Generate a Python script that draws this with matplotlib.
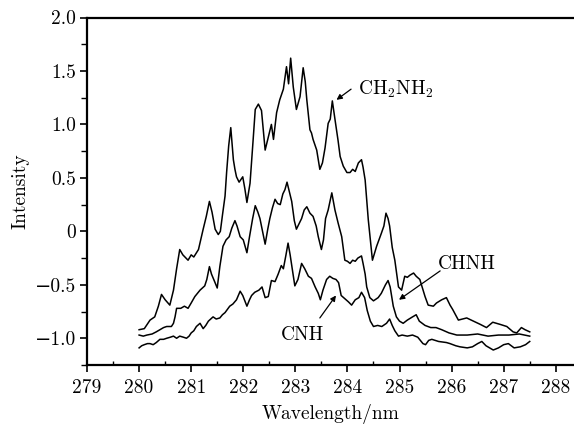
import matplotlib
matplotlib.use("Agg")
import matplotlib.pyplot as plt
from matplotlib.ticker import MultipleLocator

plt.rcParams['font.family'] = ['cmr10', 'DejaVu Serif']
plt.rcParams['mathtext.fontset'] = 'cm'
plt.rcParams['axes.formatter.use_mathtext'] = True

# CH2NH2 (upper trace)
x_top = [280.00, 280.10, 280.21, 280.30, 280.37, 280.43, 280.50, 280.59, 280.66, 280.72,
         280.78, 280.84, 280.94, 281.00, 281.05, 281.14, 281.23, 281.29, 281.35, 281.40,
         281.46, 281.52, 281.56, 281.60, 281.65, 281.68, 281.72, 281.76, 281.81, 281.84,
         281.87, 281.92, 281.99, 282.03, 282.07, 282.13, 282.19, 282.23, 282.29, 282.35,
         282.42, 282.47, 282.54, 282.58, 282.64, 282.70, 282.77, 282.83, 282.87, 282.91,
         282.96, 283.02, 283.09, 283.15, 283.19, 283.22, 283.28, 283.31, 283.34, 283.41,
         283.47, 283.52, 283.57, 283.63, 283.67, 283.71, 283.76, 283.82, 283.86, 283.92,
         283.99, 284.05, 284.10, 284.15, 284.21, 284.27, 284.30, 284.34, 284.40, 284.44,
         284.48, 284.56, 284.65, 284.70, 284.74, 284.78, 284.81, 284.86, 284.91, 284.98,
         285.04, 285.10, 285.15, 285.20, 285.27, 285.32, 285.39, 285.49, 285.55, 285.65,
         285.71, 285.81, 285.90, 285.97, 286.02, 286.13, 286.29, 286.42, 286.55, 286.67,
         286.79, 286.93, 287.06, 287.18, 287.25, 287.34, 287.41, 287.50]
y_top = [-0.92, -0.91, -0.83, -0.80, -0.70, -0.59, -0.64, -0.69, -0.55, -0.35,
         -0.17, -0.22, -0.27, -0.22, -0.24, -0.17, 0.02, 0.14, 0.28, 0.18,
         0.02, -0.03, 0.00, 0.15, 0.33, 0.55, 0.80, 0.97, 0.67, 0.58,
         0.51, 0.46, 0.51, 0.40, 0.27, 0.45, 0.86, 1.14, 1.19, 1.13,
         0.76, 0.86, 1.00, 0.86, 1.11, 1.23, 1.33, 1.54, 1.38, 1.62,
         1.35, 1.14, 1.26, 1.53, 1.40, 1.23, 0.95, 0.92, 0.86, 0.76,
         0.58, 0.64, 0.78, 1.01, 1.05, 1.22, 1.05, 0.85, 0.70, 0.61,
         0.55, 0.55, 0.58, 0.56, 0.64, 0.67, 0.60, 0.48, 0.11, -0.08,
         -0.27, -0.14, -0.02, 0.05, 0.17, 0.12, 0.05, -0.15, -0.27, -0.52,
         -0.55, -0.42, -0.43, -0.41, -0.39, -0.42, -0.45, -0.61, -0.69, -0.70,
         -0.67, -0.64, -0.62, -0.69, -0.73, -0.83, -0.81, -0.84, -0.87, -0.90,
         -0.85, -0.87, -0.89, -0.94, -0.95, -0.90, -0.92, -0.94]

# CHNH (middle trace)
x_mid = [280.00, 280.08, 280.15, 280.25, 280.33, 280.40, 280.47, 280.53, 280.62, 280.66,
         280.69, 280.72, 280.80, 280.87, 280.94, 281.00, 281.07, 281.12, 281.17, 281.26,
         281.30, 281.35, 281.39, 281.45, 281.50, 281.55, 281.61, 281.67, 281.73, 281.78,
         281.84, 281.88, 281.94, 282.00, 282.07, 282.12, 282.18, 282.23, 282.28, 282.32,
         282.37, 282.42, 282.47, 282.51, 282.56, 282.61, 282.66, 282.71, 282.76, 282.80,
         282.84, 282.88, 282.93, 282.98, 283.02, 283.06, 283.12, 283.17, 283.22, 283.28,
         283.34, 283.40, 283.44, 283.50, 283.54, 283.58, 283.63, 283.70, 283.73, 283.76,
         283.82, 283.89, 283.95, 284.00, 284.05, 284.10, 284.15, 284.20, 284.27, 284.30,
         284.34, 284.37, 284.43, 284.50, 284.59, 284.65, 284.69, 284.73, 284.78, 284.82,
         284.88, 284.94, 285.00, 285.07, 285.15, 285.25, 285.32, 285.38, 285.49, 285.60,
         285.70, 285.81, 285.95, 286.10, 286.30, 286.50, 286.70, 286.90, 287.10, 287.30,
         287.50]
y_mid = [-0.97, -0.98, -0.97, -0.96, -0.94, -0.92, -0.90, -0.89, -0.89, -0.86,
         -0.80, -0.72, -0.72, -0.70, -0.72, -0.67, -0.61, -0.58, -0.55, -0.51,
         -0.45, -0.33, -0.40, -0.47, -0.53, -0.33, -0.14, -0.08, -0.05, 0.03,
         0.10, 0.05, -0.05, -0.08, -0.20, -0.05, 0.12, 0.24, 0.18, 0.12,
         0.00, -0.12, 0.02, 0.12, 0.22, 0.30, 0.26, 0.25, 0.35, 0.39,
         0.46, 0.38, 0.28, 0.10, 0.02, 0.06, 0.12, 0.20, 0.23, 0.17,
         0.14, 0.05, -0.05, -0.17, -0.08, 0.12, 0.20, 0.36, 0.28, 0.20,
         0.08, -0.05, -0.27, -0.28, -0.30, -0.27, -0.28, -0.25, -0.23, -0.30,
         -0.40, -0.52, -0.62, -0.65, -0.62, -0.58, -0.54, -0.50, -0.46, -0.52,
         -0.70, -0.80, -0.84, -0.86, -0.83, -0.80, -0.78, -0.84, -0.88, -0.90,
         -0.90, -0.92, -0.95, -0.97, -0.97, -0.96, -0.98, -0.97, -0.97, -0.96,
         -0.98]

# CNH (lower trace)
x_low = [280.00, 280.05, 280.10, 280.16, 280.21, 280.27, 280.33, 280.40, 280.47, 280.53,
         280.60, 280.66, 280.72, 280.78, 280.85, 280.91, 280.96, 281.00, 281.05, 281.10,
         281.17, 281.23, 281.28, 281.33, 281.42, 281.48, 281.55, 281.60, 281.65, 281.74,
         281.80, 281.87, 281.94, 281.99, 282.07, 282.12, 282.16, 282.22, 282.30, 282.36,
         282.42, 282.48, 282.54, 282.61, 282.67, 282.73, 282.77, 282.82, 282.86, 282.90,
         282.94, 282.99, 283.05, 283.12, 283.18, 283.25, 283.31, 283.38, 283.44, 283.48,
         283.53, 283.60, 283.66, 283.72, 283.78, 283.83, 283.88, 283.95, 284.02, 284.08,
         284.15, 284.22, 284.27, 284.33, 284.38, 284.44, 284.50, 284.58, 284.66, 284.75,
         284.81, 284.86, 284.91, 284.98, 285.05, 285.15, 285.25, 285.35, 285.45, 285.50,
         285.56, 285.62, 285.75, 285.90, 285.97, 286.08, 286.16, 286.30, 286.40, 286.50,
         286.58, 286.66, 286.80, 286.90, 287.00, 287.09, 287.20, 287.32, 287.42, 287.50]
y_low = [-1.09, -1.07, -1.06, -1.05, -1.05, -1.06, -1.04, -1.01, -1.01, -1.00,
         -0.99, -0.98, -1.00, -0.98, -0.99, -1.00, -0.98, -0.95, -0.93, -0.89,
         -0.86, -0.91, -0.88, -0.84, -0.80, -0.82, -0.81, -0.78, -0.76, -0.70,
         -0.68, -0.64, -0.56, -0.60, -0.70, -0.64, -0.60, -0.57, -0.55, -0.52,
         -0.62, -0.61, -0.46, -0.47, -0.40, -0.32, -0.35, -0.22, -0.11, -0.22,
         -0.35, -0.51, -0.45, -0.30, -0.35, -0.42, -0.44, -0.52, -0.58, -0.64,
         -0.55, -0.45, -0.42, -0.44, -0.45, -0.48, -0.60, -0.63, -0.66, -0.69,
         -0.64, -0.62, -0.57, -0.62, -0.74, -0.84, -0.89, -0.88, -0.89, -0.86,
         -0.82, -0.88, -0.93, -0.98, -0.97, -0.98, -0.97, -0.99, -1.05, -1.06,
         -1.02, -1.01, -1.03, -1.04, -1.05, -1.07, -1.08, -1.09, -1.08, -1.05,
         -1.03, -1.07, -1.11, -1.09, -1.06, -1.05, -1.09, -1.08, -1.06, -1.03]

x_ticks = [279, 280, 281, 282, 283, 284, 285, 286, 287, 288]
y_ticks = [-1.0, -0.5, 0.0, 0.5, 1.0, 1.5, 2.0]
y_tick_labels = ['\u22121.0', '\u22120.5', '0', '0.5', '1.0', '1.5', '2.0']

fig = plt.figure(figsize=(5.74, 4.25), dpi=100)
ax = fig.add_axes([0.1516, 0.1412, 0.8484, 0.8176])

for xs, ys in [(x_top, y_top), (x_mid, y_mid), (x_low, y_low)]:
    ax.plot(xs, ys, color='black', lw=1.1)

ax.set_xlim(279, 288.35)
ax.set_ylim(-1.25, 2.0)
ax.set_xticks(x_ticks)
ax.set_xticklabels([str(t) for t in x_ticks])
ax.set_yticks(y_ticks)
ax.set_yticklabels(y_tick_labels)
ax.xaxis.set_minor_locator(MultipleLocator(0.5))
ax.yaxis.set_minor_locator(MultipleLocator(0.25))

ax.spines['right'].set_visible(False)
for side in ['left', 'bottom', 'top']:
    ax.spines[side].set_linewidth(1.6)
ax.tick_params(axis='both', which='major', direction='out', length=5, width=1.2,
               labelsize=14, pad=3)
ax.tick_params(axis='x', which='major', pad=5)
ax.tick_params(axis='x', which='minor', direction='in', length=3, width=1.0)
ax.tick_params(axis='y', which='minor', direction='out', length=4, width=1.0)
ax.tick_params(top=False, right=False, which='both')

ax.set_xlabel('Wavelength/nm', fontsize=14, labelpad=5)
ax.set_ylabel('Intensity', fontsize=14, labelpad=4)

arrow = dict(arrowstyle='-|>', color='black', lw=0.9, mutation_scale=8, shrinkA=0, shrinkB=0)
ax.text(284.2, 1.33, r'CH$_2$NH$_2$', fontsize=14, ha='left', va='center')
ax.annotate('', xy=(283.79, 1.23), xytext=(284.07, 1.33), arrowprops=arrow)
ax.text(285.74, -0.31, 'CHNH', fontsize=14, ha='left', va='center')
ax.annotate('', xy=(284.99, -0.64), xytext=(285.78, -0.37), arrowprops=arrow)
ax.text(282.73, -0.97, 'CNH', fontsize=14, ha='left', va='center')
ax.annotate('', xy=(283.78, -0.60), xytext=(283.47, -0.81), arrowprops=arrow)

fig.savefig('out.png', dpi=100)
